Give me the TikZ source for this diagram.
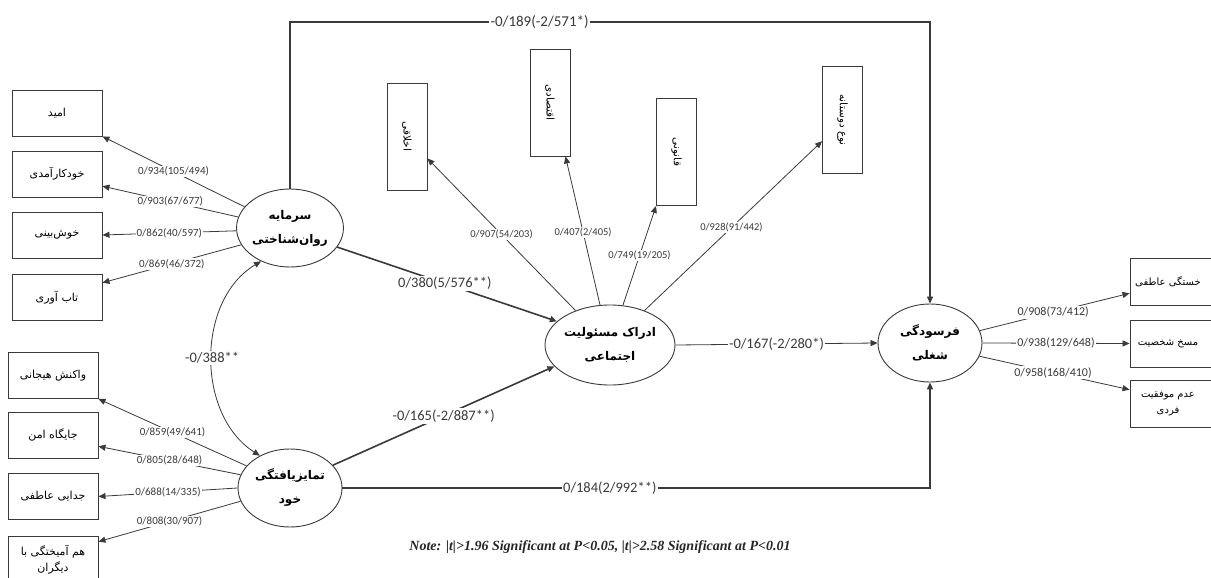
\documentclass[tikz,border=0pt]{standalone}
\usepackage{fontspec}
\usepackage{graphicx}
\usetikzlibrary{shapes.geometric,arrows.meta}
\setmainfont{Carlito}
\newfontfamily\fa[Script=Arabic]{DejaVu Sans}
\newfontfamily\notefont{Liberation Serif}
\TeXXeTstate=1
\definecolor{ln}{HTML}{3A3A3A}
\tikzset{
 box/.style={draw=ln,line width=0.9pt,minimum width=90pt,minimum height=46pt,inner sep=0pt,font=\fa\fontsize{11}{16}\selectfont,align=center},
 rbox/.style={box,minimum width=110pt,minimum height=47pt,font=\fa\fontsize{10}{16}\selectfont},
 vbox/.style={draw=ln,line width=0.9pt,minimum width=40pt,minimum height=107pt,inner sep=0pt,font=\fa\fontsize{10.5}{12}\selectfont},
 ell/.style={ellipse,draw=ln,line width=0.9pt,minimum width=104pt,minimum height=78pt,inner sep=0pt,font=\fa\bfseries\fontsize{12}{24}\selectfont,align=center},
 tip/.style={-{Triangle[length=7pt,width=6pt]}},
 conn/.style={draw=ln,line width=0.8pt,tip},
 heavy/.style={line width=1.6pt},
 lab/.style={fill=white,inner sep=1pt,text=ln,font=\fontsize{11}{12}\selectfont},
 tlab/.style={fill=white,inner sep=1pt,text=ln,font=\fontsize{10.5}{12}\selectfont},
 rlab/.style={fill=white,inner sep=1pt,text=ln,font=\fontsize{12}{13}\selectfont},
 biglab/.style={fill=white,inner sep=1.5pt,text=ln,font=\fontsize{14.5}{16}\selectfont},
}
\begin{document}
\begin{tikzpicture}[x=1pt,y=-1pt]
\fill[white] (0,0) rectangle (1211,578);
\useasboundingbox (0,0) rectangle (1211,578);

% ellipses
\node[ell] (sr) at (290,228) {\beginR سرمایه\endR\\\beginR روان‌شناختی\endR};
\node[ell] (tm) at (290,488) {\beginR تمایزیافتگی\endR\\\beginR خود\endR};
\node[ell,minimum width=120pt,minimum height=80pt] (ad) at (610,345) {\beginR ادراک مسئولیت\endR\\\beginR اجتماعی\endR};
\node[ell] (fr) at (930,343) {\beginR فرسودگی\endR\\\beginR شغلی\endR};

% left top boxes
\node[box] (b1) at (57,113) {\beginR امید\endR};
\node[box] (b2) at (57,174) {\beginR خودکارآمدی\endR};
\node[box] (b3) at (57,235) {\beginR خوش‌بینی\endR};
\node[box] (b4) at (57,297.5) {\beginR تاب آوری\endR};

% left bottom boxes
\node[box] (c1) at (53,375.5) {\beginR واکنش هیجانی\endR};
\node[box] (c2) at (53,435) {\beginR جایگاه امن\endR};
\node[box] (c3) at (53,496.5) {\beginR جدایی عاطفی\endR};
\node[box,minimum height=48pt] (c4) at (53,560) {\beginR هم آمیختگی با\endR\\\beginR دیگران\endR};

% top vertical boxes
\node[vbox] (v1) at (407,136.5) {\rotatebox{-90}{\beginR اخلاقی\endR}};
\node[vbox] (v2) at (550,102.5) {\rotatebox{-90}{\beginR اقتصادی\endR}};
\node[vbox] (v3) at (676.5,152) {\rotatebox{-90}{\beginR قانونی\endR}};
\node[vbox] (v4) at (842.5,120) {\rotatebox{-90}{\beginR نوع دوستانه\endR}};

% right boxes
\node[rbox] (r1) at (1185,281.5) {\beginR خستگی عاطفی\endR\kern34pt};
\node[rbox] (r2) at (1185,343.5) {\beginR مسخ شخصیت\endR\kern34pt};
\node[rbox] (r3) at (1185,403.5) {\beginR عدم موفقیت\endR\kern34pt\\\beginR فردی\endR\kern34pt};

% left connectors
\draw[conn] (sr.155) -- node[lab]{0/934(105/494)} (b1.south east);
\draw[conn] (sr.168) -- node[lab]{0/903(67/677)} (b2.-15);
\draw[conn] (sr.183) -- node[lab]{0/862(40/597)} (b3.east);
\draw[conn] (sr.199) -- node[lab]{0/869(46/372)} (b4.18);

\draw[conn] (tm.153) -- node[lab]{0/859(49/641)} (c1.south east);
\draw[conn] (tm.165) -- node[lab]{0/805(28/648)} (c2.-14);
\draw[conn] (tm.180) -- node[lab]{0/688(14/335)} (c3.east);
\draw[conn] (tm.195) -- node[lab]{0/808(30/907)} (c4.22);

% correlation
\draw[draw=ln,line width=0.8pt,{Triangle[length=7pt,width=6pt]}-{Triangle[length=7pt,width=6pt]}]
  (sr.229) .. controls (196,300) and (196,415) .. node[biglab,pos=.5]{-0/388**} (tm.133);

% top connectors
\draw[conn] (ad.135) -- node[tlab]{0/907(54/203)} (v1.-47);
\draw[conn] (ad.104) -- node[tlab,pos=.49]{0/407(2/405)} (v2.-74);
\draw[conn] (ad.72) -- node[tlab]{0/749(19/205)} (v3.south west);
\draw[conn] (ad.45) -- node[tlab,pos=.49]{0/928(91/442)} (v4.226);

% main paths
\draw[conn,heavy] (sr.-22) -- node[biglab,pos=.49]{0/380(5/576**)} (ad.156);
\draw[conn,heavy] (tm.28) -- node[biglab]{-0/165(-2/887**)} (ad.201);
\draw[conn] (ad.east) -- node[biglab]{-0/167(-2/280*)} (fr.west);

\coordinate (ytop) at (0,22);
\draw[conn,line width=1.3pt] (sr.north) -- (sr.north |- ytop) -- node[biglab,pos=.39,font=\fontsize{15}{16}\selectfont]{-0/189(-2/571*)} (fr.north |- ytop) -- (fr.north);
\draw[conn,line width=2.2pt] (tm.east) -- node[biglab,pos=.455]{0/184(2/992**)} (tm.east -| fr.south) -- (fr.south);

% right connectors
\draw[conn] (fr.14) -- node[rlab,pos=.49]{0/908(73/412)} (r1.192);
\draw[conn] (fr.east) -- node[rlab]{0/938(129/648)} (r2.west);
\draw[conn] (fr.-15) -- node[rlab,pos=.49]{0/958(168/410)} (r3.166);

% note
\node[font=\notefont\bfseries\itshape\fontsize{14}{16}\selectfont,text=black!85] (note) at (600,547) {Note: |t|>1.96 Significant at P<0.05, |t|>2.58 Significant at P<0.01};
\end{tikzpicture}
\end{document}
